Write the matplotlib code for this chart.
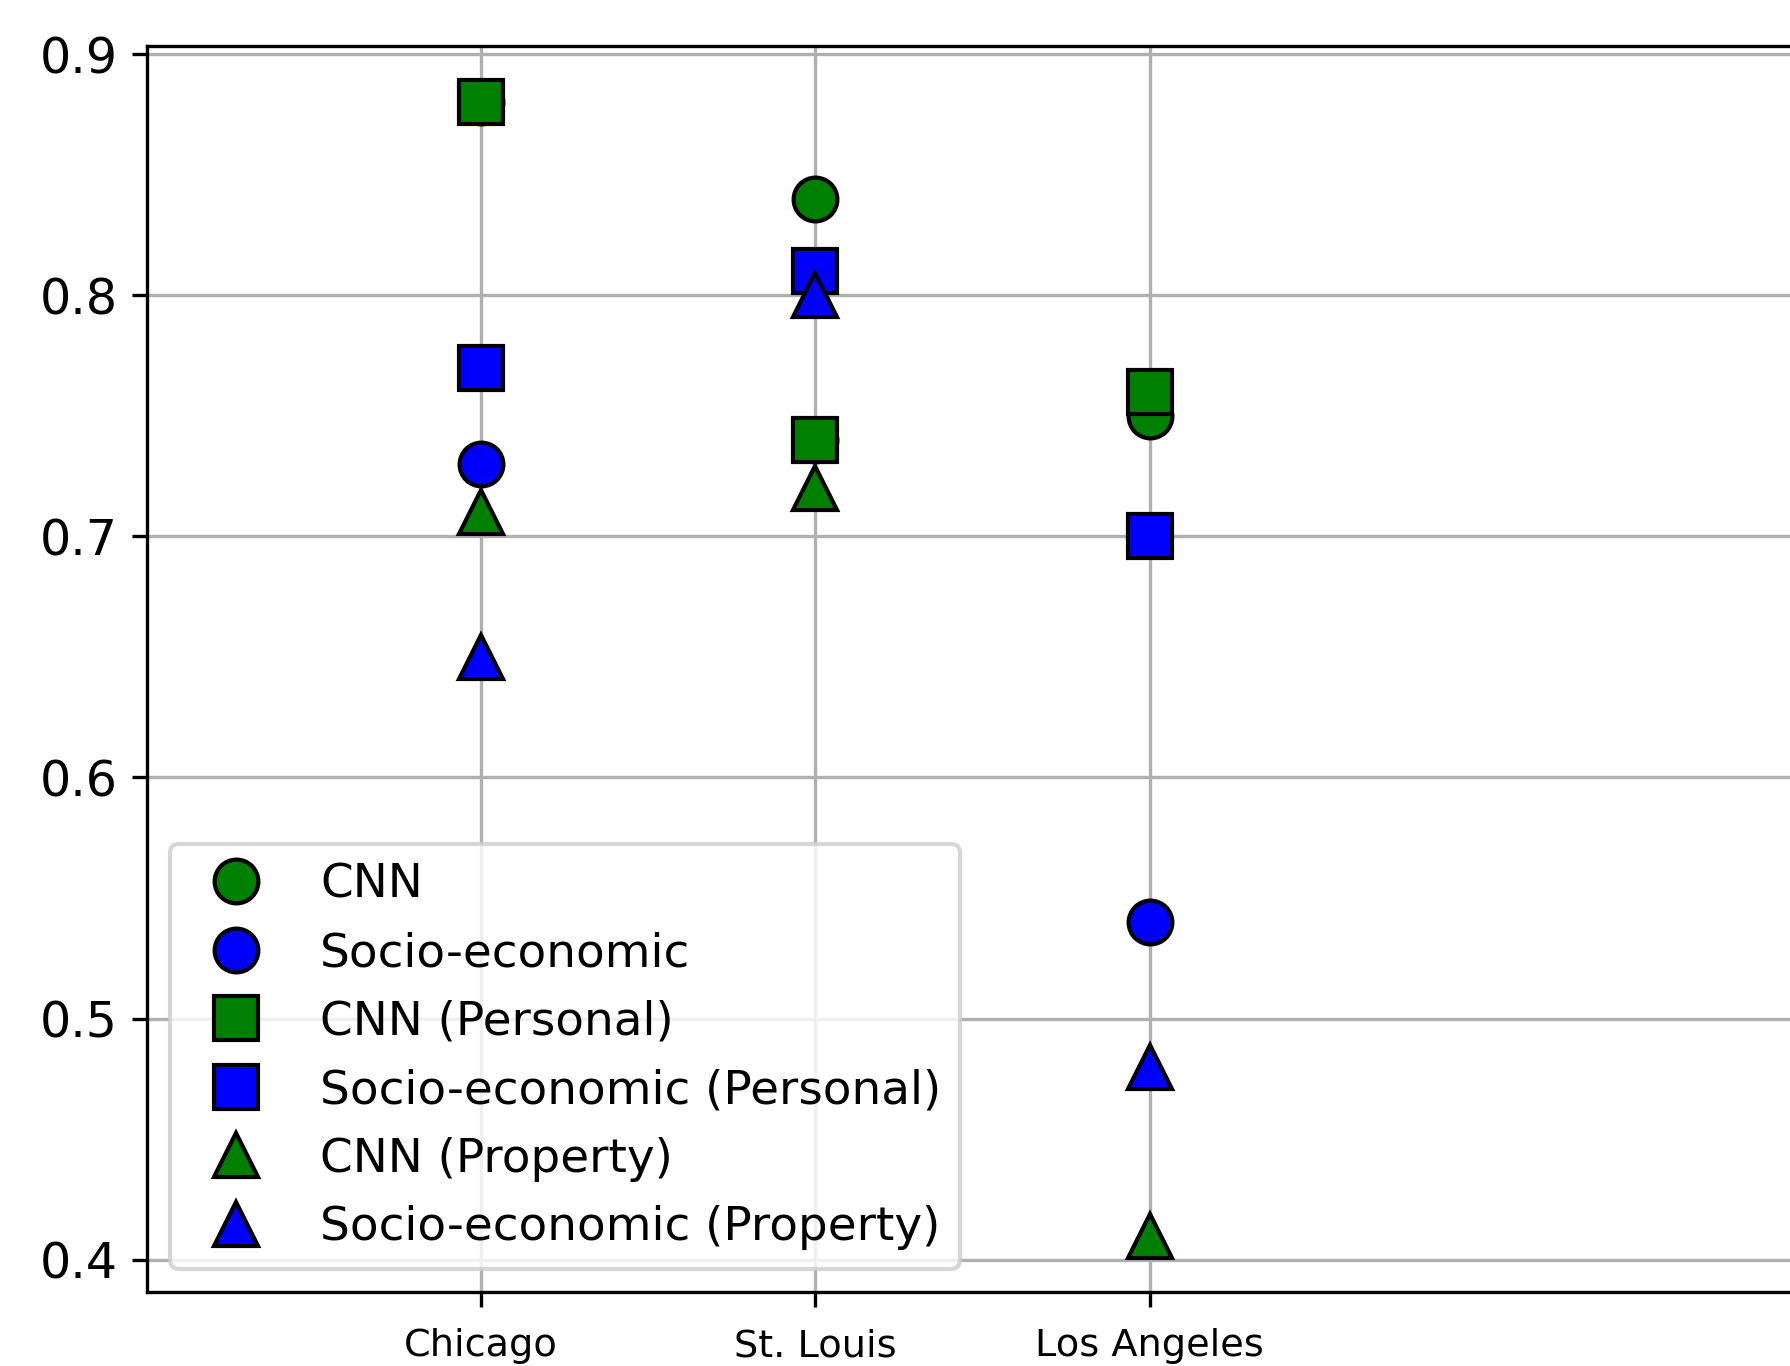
import matplotlib
matplotlib.use('Agg')
import matplotlib.pyplot as plt

# ciudades y posiciones en el eje x
cities = ['Chicago', 'St. Louis', 'Los Angeles']
xpos = [1, 2, 3]

# precision de cada modelo por ciudad
cnn = [0.88, 0.84, 0.75]
socio = [0.73, 0.74, 0.54]
cnn_personal = [0.88, 0.74, 0.76]
socio_personal = [0.77, 0.81, 0.70]
cnn_property = [0.71, 0.72, 0.41]
socio_property = [0.65, 0.80, 0.48]

series = [
    (cnn, 'o', 'green', 'CNN'),
    (socio, 'o', 'blue', 'Socio-economic'),
    (cnn_personal, 's', 'green', 'CNN (Personal)'),
    (socio_personal, 's', 'blue', 'Socio-economic (Personal)'),
    (cnn_property, '^', 'green', 'CNN (Property)'),
    (socio_property, '^', 'blue', 'Socio-economic (Property)'),
]

fig = plt.figure(figsize=(1790 / 300, 1366 / 300), dpi=300)
# el eje se extiende mas alla del borde derecho de la figura
ax = fig.add_axes([0.0819, 0.054, 0.934, 0.9126])

for vals, mk, col, lab in series:
    ax.plot(xpos, vals, linestyle='none', marker=mk, markersize=10.5,
            markerfacecolor=col, markeredgecolor='black', markeredgewidth=1.0,
            label=lab)

ax.set_xlim(0, 5)
ax.set_ylim(0.3865, 0.9035)
ax.set_xticks(xpos)
ax.set_xticklabels(cities, fontsize=9.2)
ax.set_yticks([0.4, 0.5, 0.6, 0.7, 0.8, 0.9])
ax.tick_params(axis='y', labelsize=11.8)
ax.tick_params(axis='x', pad=5.2)
ax.grid(True)
ax.set_axisbelow(True)

ax.legend(loc='lower left', fontsize=11.25)

fig.savefig('out.png', dpi=300)
